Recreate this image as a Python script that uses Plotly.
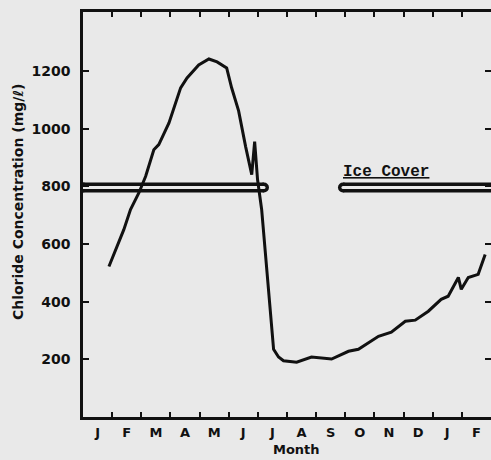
import plotly.graph_objects as go

# ---- data (x in months from 1 Jan; y in mg/l) ----
month_x = [0.89, 1.40, 1.63, 1.92, 2.15, 2.43, 2.60, 2.95, 3.35, 3.57, 3.97, 4.32,
           4.60, 4.93, 5.10, 5.34, 5.58, 5.79, 5.89, 5.99, 6.13, 6.43, 6.54, 6.71,
           6.88, 7.33, 7.84, 8.53, 9.11, 9.45, 10.14, 10.58, 11.06, 11.40, 11.85,
           12.29, 12.53, 12.88, 12.98, 13.22, 13.56, 13.80]
chloride = [522, 650, 720, 778, 835, 927, 945, 1020, 1142, 1176, 1221, 1242,
            1232, 1211, 1142, 1062, 938, 841, 955, 823, 720, 385, 235, 208,
            195, 190, 208, 201, 228, 235, 280, 294, 332, 336, 367,
            408, 419, 484, 443, 484, 495, 564]

month_labels = ["J", "F", "M", "A", "M", "J", "J", "A", "S", "O", "N", "D", "J", "F"]
month_label_pos = [i + 0.5 for i in range(14)]
month_bounds = list(range(1, 14))
y_ticks = [200, 400, 600, 800, 1000, 1200]

ice_start = [0.0, 8.92]
ice_end = [6.21, 14.2]
ice_level = 796
ice_text_x = 10.40
ice_text_y = 850

BG = "#e9e9e9"
INK = "#111111"

fig = go.Figure()

# ice cover bars (double line with rounded ends)
for s, e in zip(ice_start, ice_end):
    fig.add_trace(go.Scatter(x=[s, e], y=[ice_level, ice_level], mode="lines+markers",
                             line=dict(color=INK, width=10),
                             marker=dict(color=INK, size=10, line=dict(width=0)),
                             showlegend=False, hoverinfo="skip"))
    fig.add_trace(go.Scatter(x=[s, e], y=[ice_level, ice_level], mode="lines+markers",
                             line=dict(color=BG, width=3),
                             marker=dict(color=BG, size=3, line=dict(width=0)),
                             showlegend=False, hoverinfo="skip"))

# chloride curve
fig.add_trace(go.Scatter(x=month_x, y=chloride, mode="lines",
                         line=dict(color=INK, width=3),
                         showlegend=False))

# invisible trace so the month-label axis is drawn
fig.add_trace(go.Scatter(x=month_label_pos, y=[None] * len(month_label_pos), xaxis="x2",
                         mode="markers", showlegend=False, hoverinfo="skip"))

fig.add_annotation(x=ice_text_x, y=ice_text_y, xref="x", yref="y", text="<b>Ice Cover</b>",
                   showarrow=False, xanchor="center", yanchor="middle",
                   font=dict(family="Liberation Mono", size=16, color=INK, lineposition="under"))

fig.add_annotation(x=0.524, y=-0.080, xref="paper", yref="paper", text="<b>Month</b>",
                   showarrow=False, xanchor="center", yanchor="middle",
                   font=dict(family="DejaVu Sans", size=13, color=INK))
fig.add_annotation(x=-0.159, y=0.531, xref="paper", yref="paper",
                   text="<b>Chloride Concentration (mg/ℓ)</b>", textangle=-90,
                   showarrow=False, xanchor="center", yanchor="middle",
                   font=dict(family="DejaVu Sans", size=14, color=INK))

fig.update_layout(
    width=491, height=460,
    margin=dict(l=83, r=0, t=12, b=43, autoexpand=False),
    paper_bgcolor=BG, plot_bgcolor=BG,
    xaxis=dict(range=[0, 14], tickvals=month_bounds, ticks="inside", ticklen=5, tickwidth=2,
               tickcolor=INK, showticklabels=False, showgrid=False, zeroline=False,
               showline=True, linewidth=2.5, linecolor=INK, mirror="ticks", automargin=False),
    xaxis2=dict(range=[0, 14], overlaying="x", side="bottom", tickvals=month_label_pos,
                ticktext=["<b>%s</b>" % m for m in month_labels], ticks="", showgrid=False,
                zeroline=False, showline=False, ticklabelstandoff=6, automargin=False,
                tickfont=dict(family="DejaVu Sans", size=13, color=INK)),
    yaxis=dict(range=[0, 1405], tickvals=y_ticks, ticktext=["<b>%d</b>" % v for v in y_ticks],
               ticks="inside", ticklen=6, tickwidth=2, tickcolor=INK, showgrid=False,
               zeroline=False, showline=True, linewidth=2.5, linecolor=INK, mirror="ticks",
               automargin=False, ticklabelstandoff=7,
               tickfont=dict(family="DejaVu Sans", size=14, color=INK)),
)

fig.write_html("out.html", config={"displayModeBar": False},
               post_script="document.body.style.margin='0';document.body.style.overflow='hidden';"
                           "document.body.style.background='%s';" % BG)
